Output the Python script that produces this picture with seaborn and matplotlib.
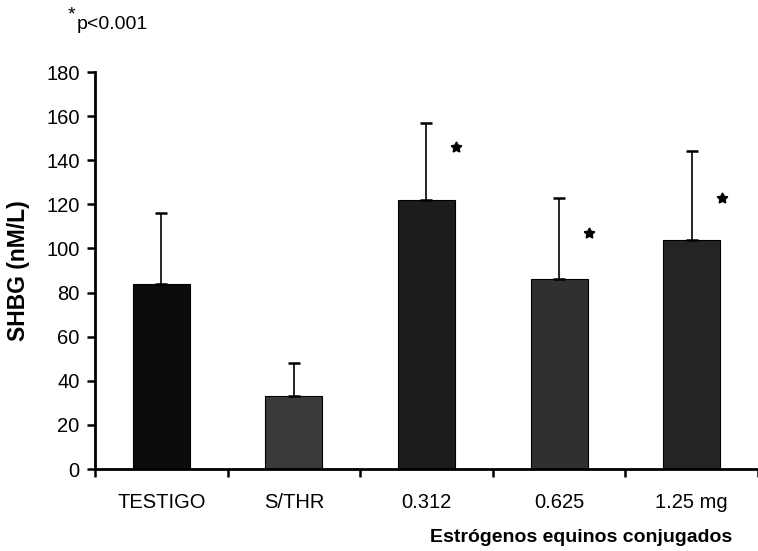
import matplotlib
matplotlib.use("Agg")
import matplotlib.pyplot as plt
import seaborn as sns
import pandas as pd
import numpy as np

# Serum SHBG by treatment group
groups = ["TESTIGO", "S/THR", "0.312", "0.625", "1.25 mg"]
shbg_mean = [84, 33, 122, 86, 104]
shbg_sd = [32, 15, 35, 37, 40]
bar_colors = ["#0c0c0c", "#3a3a3a", "#1c1c1c", "#303030", "#242424"]
# Significance markers (groups and the height of each star)
star_groups = ["0.312", "0.625", "1.25 mg"]
star_heights = [146, 107, 123]

sns.set_theme(style="white")
plt.rcParams["font.family"] = ["Liberation Sans", "DejaVu Sans"]

df = pd.DataFrame({"grupo": groups, "shbg": shbg_mean})

fig = plt.figure(figsize=(7.58, 5.51), dpi=100)
ax = fig.add_axes([0.1253, 0.1488, 0.8747, 0.7205])

sns.barplot(data=df, x="grupo", y="shbg", hue="grupo", palette=bar_colors,
            order=groups, hue_order=groups, width=0.43, legend=False,
            edgecolor="black", linewidth=0.8, ax=ax)

pos = np.arange(len(groups))
ax.errorbar(pos, shbg_mean, yerr=[np.zeros(len(groups)), shbg_sd],
            fmt="none", ecolor="black", elinewidth=1.2, capsize=4.5,
            capthick=1.8, zorder=3)

for g, h in zip(star_groups, star_heights):
    i = groups.index(g)
    ax.plot(i + 0.225, h, marker=(5, 1, 0), markersize=8, color="black",
            linestyle="none", zorder=4)

ax.set_xlim(-0.5, 4.5)
ax.set_ylim(0, 180)
ax.set_yticks(range(0, 181, 20))

# Tick marks at category boundaries, labels at category centres
ax.set_xticks(np.arange(-0.5, 4.6, 1.0))
ax.set_xticklabels([])
ax.set_xticks(pos, minor=True)
ax.set_xticklabels(groups, minor=True)
ax.tick_params(axis="x", which="major", direction="out", length=6, width=1.8,
               bottom=True, color="black")
ax.tick_params(axis="x", which="minor", length=0, pad=17, labelsize=14.5,
               labelcolor="black")
ax.tick_params(axis="y", direction="out", length=6, width=1.8, left=True,
               pad=5, labelsize=14.5, labelcolor="black", color="black")

for side in ["top", "right"]:
    ax.spines[side].set_visible(False)
for side in ["left", "bottom"]:
    ax.spines[side].set_linewidth(2.0)
    ax.spines[side].set_color("black")

ax.set_xlabel("")
ax.set_ylabel("SHBG (nM/L)", fontsize=16.5, fontweight="bold", labelpad=12,
              color="black")

fig.text(0.966, 0.0236, "Estrógenos equinos conjugados", ha="right",
         va="center", fontsize=14, fontweight="bold", color="black")
fig.text(0.089, 0.972, "*", ha="left", va="center", fontsize=14, color="black")
fig.text(0.101, 0.955, "p<0.001", ha="left", va="center", fontsize=14,
         color="black")

fig.savefig("out.png", dpi=100)
